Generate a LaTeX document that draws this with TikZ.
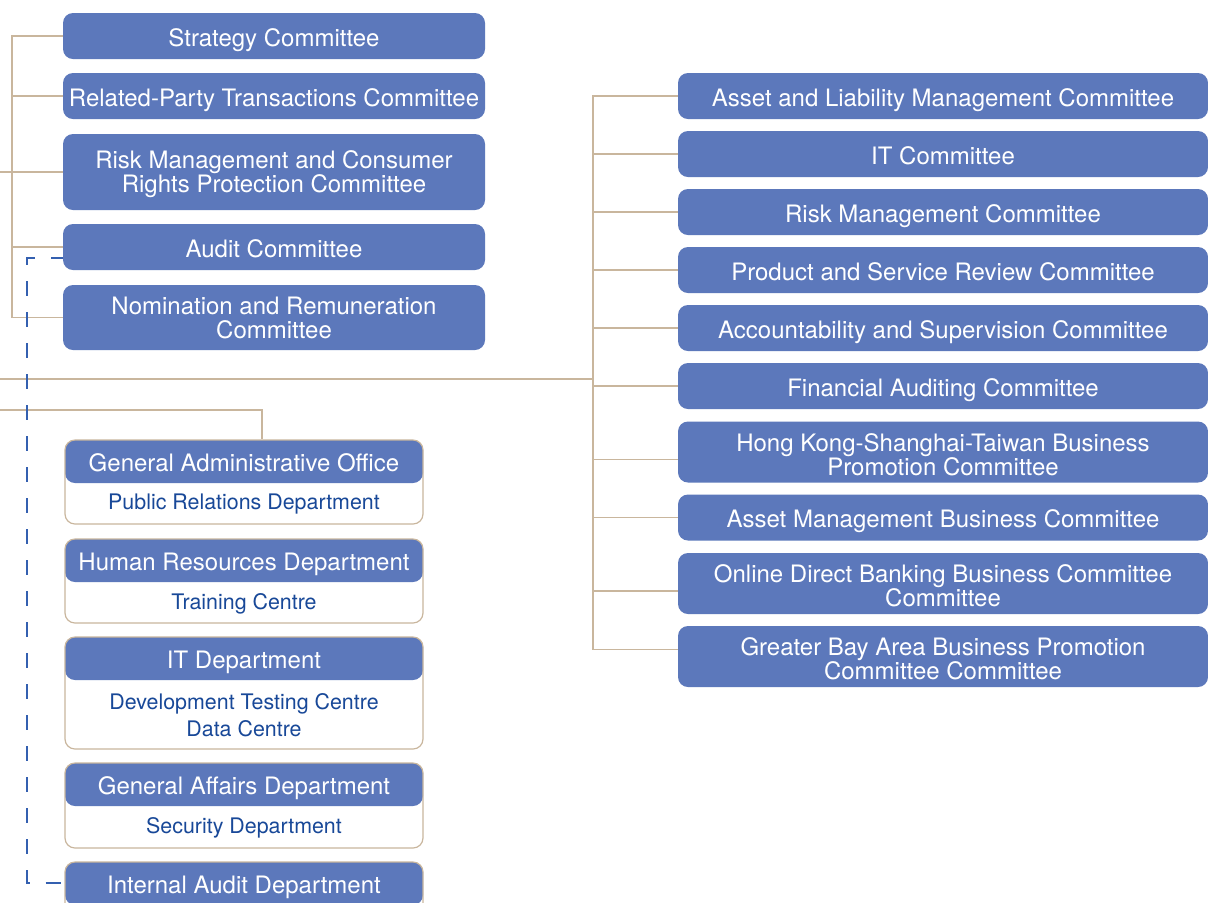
\documentclass[tikz,border=0pt]{standalone}
\usepackage{fontspec}
\setmainfont{TeX Gyre Heros}
\usetikzlibrary{calc}
\pgfdeclarelayer{background}
\pgfsetlayers{background,main}
\definecolor{boxblue}{RGB}{92,120,187}
\definecolor{tieline}{RGB}{201,182,157}
\definecolor{linkblue}{RGB}{52,96,176}
\definecolor{deptblue}{RGB}{24,72,152}
% taller first line, sets two-line labels a little lower in their box
\newcommand{\firstline}{\rule{0pt}{11.2pt}}
\tikzstyle{committee}=[rectangle,rounded corners=5pt,fill=boxblue,text=white,inner sep=0pt,align=center,font=\fontsize{12}{12}\selectfont]
\tikzstyle{board unit}=[committee,minimum width=211pt]
\tikzstyle{mgmt unit}=[committee,minimum width=265pt]
\tikzstyle{one line}=[text height=10.4pt,text depth=0pt]
\tikzstyle{dept}=[rectangle,draw=tieline,line width=0.6pt,fill=white,rounded corners=5pt,minimum width=179pt,path picture={\fill[boxblue] (path picture bounding box.north west) rectangle ([yshift=-21.5pt]path picture bounding box.north east);}]
\tikzstyle{dept head}=[text=white,inner sep=0pt,one line,font=\fontsize{12}{12}\selectfont]
\tikzstyle{dept body}=[text=deptblue,inner sep=0pt,align=center,font=\fontsize{10.7}{13.5}\selectfont]
\tikzstyle{tie}=[draw=tieline,line width=0.8pt]
\tikzstyle{audit link}=[draw=linkblue,line width=0.9pt,dash pattern=on 7.5pt off 8pt,dash phase=1.5pt]

\begin{document}
\begin{tikzpicture}[x=0.5pt,y=-0.5pt]
\useasboundingbox (0,0) rectangle (1208,902);

% board committees
\foreach \pos/\name/\txt in {{(274,36)/sc/Strategy Committee}, {(274,96)/rpt/Related-Party Transactions Committee}, {(274,247)/ac/Audit Committee}}
	\node[board unit,one line,minimum height=23pt] (\name) at \pos {\txt};
\node[board unit,minimum height=38pt] (rmc) at (274,172) {\firstline Risk Management and Consumer\\Rights Protection Committee};
\node[board unit,minimum height=32.5pt] (nrc) at (274,317.5) {Nomination and Remuneration\\Committee};

% committees under senior management
\foreach \pos/\name/\txt in {{(943,96)/alm/Asset and Liability Management Committee}, {(943,154)/itc/IT Committee}, {(943,212)/rmgc/Risk Management Committee}, {(943,270)/psr/Product and Service Review Committee}, {(943,328)/asc/Accountability and Supervision Committee}, {(943,386)/fac/Financial Auditing Committee}, {(943,517.5)/amb/Asset Management Business Committee}}
	\node[mgmt unit,one line,minimum height=23pt] (\name) at \pos {\txt};
\foreach \pos/\name/\txt in {{(943,452)/hks/Hong Kong-Shanghai-Taiwan Business\\Promotion Committee}, {(943,583.5)/odb/Online Direct Banking Business Committee\\Committee}, {(943,656.5)/gba/Greater Bay Area Business Promotion\\Committee Committee}}
	\node[mgmt unit,minimum height=30.5pt] (\name) at \pos {\firstline\txt};

% departments: blue heading, white body
\foreach \name/\y/\h/\head/\body in {gao/482/42pt/General Administrative Office/Public Relations Department, hrd/581/42pt/Human Resources Department/Training Centre, itd/693/56pt/IT Department/Development Testing Centre\\Data Centre, gad/805.5/42.5pt/General Affairs Department/Security Department}
{
	\node[dept,minimum height=\h] (\name) at (244,\y) {};
	\node[dept head] (\name-h) at ([yshift=-10.75pt]\name.north) {\head};
	\node[dept body] (\name-b) at ($([yshift=-22.5pt]\name.north)!0.5!(\name.south)$) {\body};
}
\node[dept,minimum height=42pt] (iad) at (244,904) {};
\node[dept head] (iad-h) at ([yshift=-10.75pt]iad.north) {Internal Audit Department};

\begin{pgfonlayer}{background}
	\fill[white] (0,0) rectangle (1208,902);
	\coordinate (lside) at (0,0);
	\coordinate (lbar) at (12,0);
	\coordinate (rbar) at (593,0);
	\coordinate (dline) at (27,0);
	\coordinate (board) at (0,379);
	\coordinate (mgmt) at (0,410);

	% board side
	\path[tie] (sc.west) -| (lbar |- nrc.west) -- (nrc.west);
	\foreach \name in {rpt, ac}
		\path[tie] (lbar |- \name.west) -- (\name.west);
	\path[tie] (lside |- rmc.west) -- (rmc.west);

	% management side
	\coordinate (gba-tie) at ([yshift=3.5pt]gba.west);
	\path[tie] (board) -- (board -| rbar);
	\path[tie] (alm.west) -| (gba-tie -| rbar) -- (gba-tie);
	\foreach \name/\dy in {itc/0pt, rmgc/0pt, psr/0pt, asc/0pt, fac/0pt, hks/-3.75pt, amb/0pt, odb/-3.75pt}
		\path[tie] ([yshift=\dy]\name.west -| rbar) -- ([yshift=\dy]\name.west);
	\path[tie] (mgmt) -| ([xshift=9pt]gao.north);

	% audit reporting line
	\path[audit link] ([yshift=-5.5pt]ac.west) -| (dline |- iad-h) -- (iad.west |- iad-h);
\end{pgfonlayer}
\end{tikzpicture}
\end{document}
